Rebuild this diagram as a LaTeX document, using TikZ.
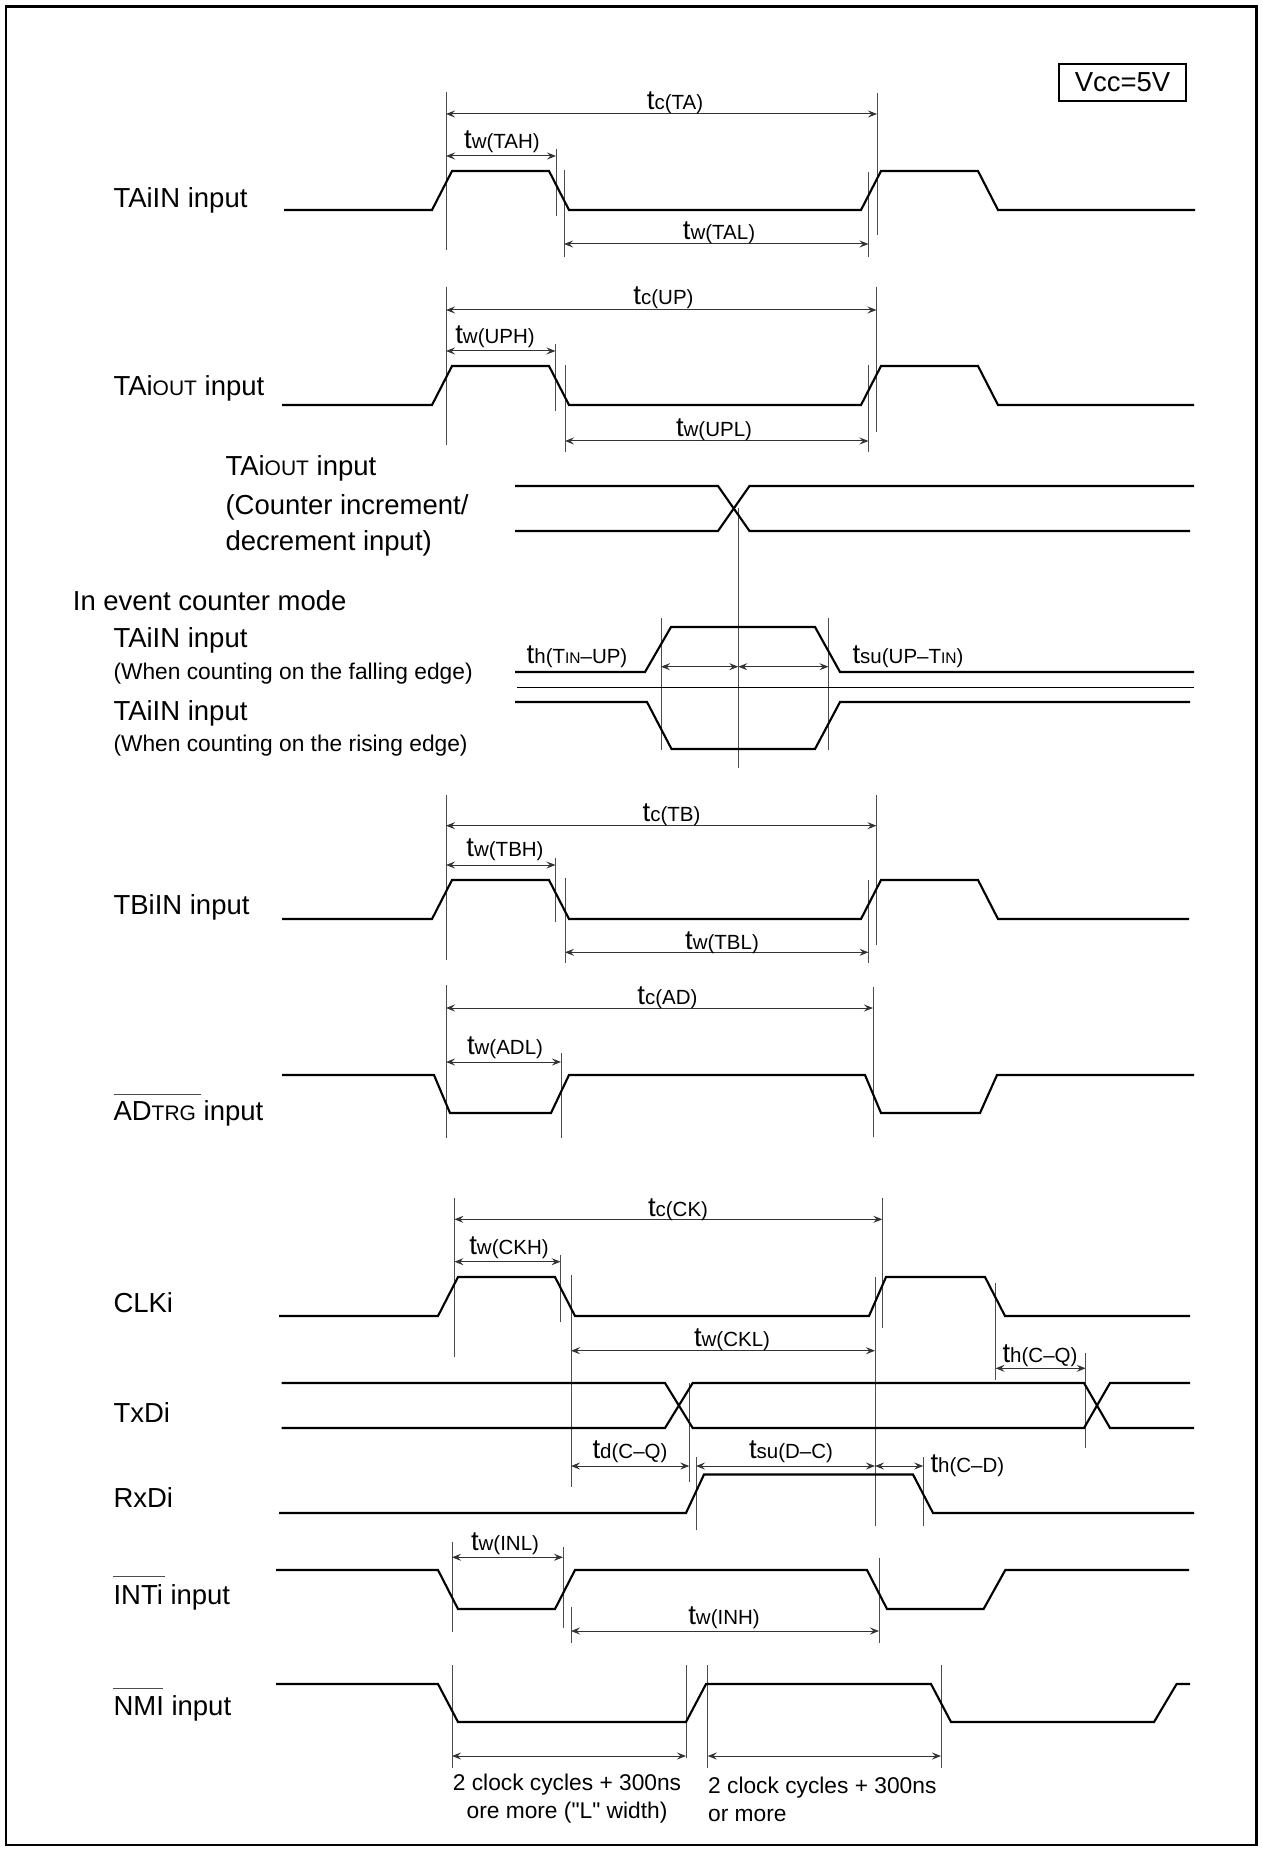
\documentclass[tikz,border=0pt]{standalone}
\usepackage{fontspec}
\setmainfont{Liberation Sans}
\newfontfamily\qfont{Liberation Sans}
\usetikzlibrary{arrows.meta}
\newcommand{\mytl}[1]{{\fontsize{11}{13}\selectfont t}{\fontsize{8.2}{10}\selectfont #1}}
\newcommand{\mysc}[1]{{\fontsize{8.4}{10}\selectfont #1}}
\newcommand{\myin}{{\fontsize{6.2}{7}\selectfont IN}}
\newcommand{\myq}{{\qfont"}}
\begin{document}
\begin{tikzpicture}[x=0.4pt,y=-0.4pt,
  sig/.style={line width=0.85pt, line join=miter},
  guide/.style={line width=0.35pt, draw=black!70},
  dimarr/.style={line width=0.4pt, draw=black!80, {Stealth[length=3.6pt,width=2.8pt,inset=1.3pt]}-{Stealth[length=3.6pt,width=2.8pt,inset=1.3pt]}},
  lbl/.style={anchor=west, inner sep=0pt, font=\fontsize{11}{13}\selectfont},
  slbl/.style={anchor=west, inner sep=0pt, font=\fontsize{9.1}{11}\selectfont},
  tlab/.style={inner sep=0pt},
  ovl/.style={line width=0.4pt, draw=black!70}
]
\useasboundingbox (0,0) rectangle (1261,1850);
\draw[line width=0.9pt] (6,6.5) rectangle (1256.5,1845);

% Vcc box
\node[draw, line width=0.7pt, minimum width=50.8pt, minimum height=14.8pt, inner sep=0pt, font=\fontsize{11}{13}\selectfont] (vcc) at (1122.5,82.5) {Vcc=5V};

% ---------------- TAiIN
\node[lbl] (l1) at (113,200) {TAiIN input};
\draw[guide] (446,92) -- (446,250) (556,149) -- (556,216) (564,170) -- (564,257) (868.5,172) -- (868.5,257) (877,93) -- (877,235);
\draw[dimarr] (446,114) -- (877,114);
\draw[dimarr] (446,156) -- (556,156);
\draw[dimarr] (564,244) -- (868.5,244);
\draw[sig] (284,210) -- (432,210) -- (452,171) -- (549,171) -- (569,210) -- (861,210) -- (881,171) -- (978,171) -- (998,210) -- (1195,210);
\node[tlab] (a1) at (675,103) {\mytl{c(TA)}};
\node[tlab] (a2) at (502,142) {\mytl{w(TAH)}};
\node[tlab] (a3) at (719,233) {\mytl{w(TAL)}};

% ---------------- TAiOUT
\node[lbl] (l2) at (113,388) {TAi\mysc{OUT} input};
\draw[guide] (446,287) -- (446,445) (555.5,344) -- (555.5,411) (565,365) -- (565,452) (868.5,365) -- (868.5,452) (876.5,287) -- (876.5,432);
\draw[dimarr] (446,310) -- (876.5,310);
\draw[dimarr] (446,351) -- (555.5,351);
\draw[dimarr] (565,441) -- (868.5,441);
\draw[sig] (282,405) -- (432,405) -- (452,366) -- (549,366) -- (569,405) -- (861,405) -- (881,366) -- (978,366) -- (998,405) -- (1194,405);
\node[tlab] (b1) at (663.5,298) {\mytl{c(UP)}};
\node[tlab] (b2) at (495,337) {\mytl{w(UPH)}};
\node[tlab] (b3) at (714,430) {\mytl{w(UPL)}};

% ---------------- Counter increment / decrement
\node[lbl] (l3) at (225,468) {TAi\mysc{OUT} input};
\node[lbl] (l4) at (225,507) {(Counter increment/};
\node[lbl] (l5) at (225,543) {decrement input)};
\draw[guide] (738.3,508) -- (738.3,768);
\draw[sig] (515,486) -- (718,486) -- (749.5,531) -- (1190,531);
\draw[sig] (515,531) -- (718,531) -- (749.5,486) -- (1194,486);

% ---------------- Event counter mode
\node[lbl] (l6) at (72.4,601) {In event counter mode};
\node[lbl] (l7) at (113,640) {TAiIN input};
\node[slbl] (l8) at (113,674) {(When counting on the falling edge)};
\node[lbl] (l9) at (113,713) {TAiIN input};
\node[slbl] (l10) at (113,746) {(When counting on the rising edge)};
\draw[guide] (661,618) -- (661,750) (828.5,618) -- (828.5,750);
\draw[dimarr] (661,666.7) -- (738.3,666.7);
\draw[dimarr] (738.3,666.7) -- (828.5,666.7);
\draw[line width=0.45pt] (517,687.3) -- (1194,687.3);
\draw[sig] (515,672) -- (645,672) -- (671,627) -- (815,627) -- (840,672) -- (1194,672);
\draw[sig] (515,702) -- (647,702) -- (671.5,749) -- (815,749) -- (840,702) -- (1190,702);
\node[tlab] (c1) at (577,657) {\mytl{h(T\myin{}–UP)}};
\node[tlab] (c2) at (908,657) {\mytl{su(UP–T\myin)}};

% ---------------- TBiIN
\node[lbl] (l11) at (113,907) {TBiIN input};
\draw[guide] (446,795) -- (446,960) (555.5,858) -- (555.5,922) (565,878) -- (565,963) (868.5,880) -- (868.5,963) (876.5,795) -- (876.5,945);
\draw[dimarr] (446,825.7) -- (876.5,825.7);
\draw[dimarr] (446,865) -- (555.5,865);
\draw[dimarr] (565,952.3) -- (868.5,952.3);
\draw[sig] (282,919) -- (432,919) -- (452,880) -- (549,880) -- (569,919) -- (861,919) -- (881,880) -- (978,880) -- (998,919) -- (1189,919);
\node[tlab] (d1) at (671.5,815) {\mytl{c(TB)}};
\node[tlab] (d2) at (505,850) {\mytl{w(TBH)}};
\node[tlab] (d3) at (722,943) {\mytl{w(TBL)}};

% ---------------- ADTRG
\node[lbl] (l12) at (113,1113) {AD\mysc{TRG} input};
\draw[ovl] (114,1094) -- (201,1094);
\draw[guide] (446,985) -- (446,1138) (561,1053) -- (561,1138) (873,987) -- (873,1137);
\draw[dimarr] (446,1008) -- (873,1008);
\draw[dimarr] (446,1062) -- (561,1062);
\draw[sig] (282,1075) -- (434,1075) -- (450,1113) -- (551,1113) -- (569,1075) -- (865,1075) -- (881,1113) -- (980,1113) -- (997,1075) -- (1194,1075);
\node[tlab] (e1) at (667.5,998) {\mytl{c(AD)}};
\node[tlab] (e2) at (505,1048) {\mytl{w(ADL)}};

% ---------------- CLKi / TxDi / RxDi
\node[lbl] (l13) at (113,1303) {CLKi};
\node[lbl] (l14) at (113,1413) {TxDi};
\node[lbl] (l15) at (113,1498) {RxDi};
\draw[guide] (454.4,1198) -- (454.4,1357) (560.6,1255) -- (560.6,1322) (571,1275) -- (571,1487)
  (875,1277) -- (875,1526) (882.3,1198) -- (882.3,1328) (995.6,1283) -- (995.6,1380) (1085.7,1353) -- (1085.7,1448)
  (689.3,1383) -- (689.3,1482) (696,1457) -- (696,1530) (923.3,1457) -- (923.3,1526);
\draw[dimarr] (454.4,1219.3) -- (882.3,1219.3);
\draw[dimarr] (454.4,1261.7) -- (560.6,1261.7);
\draw[dimarr] (571,1350.7) -- (875,1350.7);
\draw[dimarr] (995.6,1368.3) -- (1085.7,1368.3);
\draw[dimarr] (571,1466) -- (689.3,1466);
\draw[dimarr] (696,1466) -- (875,1466);
\draw[dimarr] (875,1466) -- (923.3,1466);
\draw[sig] (279,1316) -- (438,1316) -- (458,1277) -- (555,1277) -- (575,1316) -- (869,1316) -- (886,1277) -- (985,1277) -- (1005,1316) -- (1190,1316);
\draw[sig] (281.5,1383) -- (665,1383) -- (692.7,1428) -- (1084,1428) -- (1110,1383) -- (1190,1383);
\draw[sig] (281.5,1428) -- (665,1428) -- (692.7,1383) -- (1084,1383) -- (1110,1428) -- (1194,1428);
\draw[sig] (279,1513) -- (686,1513) -- (704,1474.5) -- (913,1474.5) -- (933,1513) -- (1194,1513);
\node[tlab] (f1) at (678,1209.3) {\mytl{c(CK)}};
\node[tlab] (f2) at (509,1247.7) {\mytl{w(CKH)}};
\node[tlab] (f3) at (732,1340) {\mytl{w(CKL)}};
\node[tlab] (f4) at (1040,1356) {\mytl{h(C–Q)}};
\node[tlab] (f5) at (630,1451.7) {\mytl{d(C–Q)}};
\node[tlab] (f6) at (791,1451.7) {\mytl{su(D–C)}};
\node[tlab, anchor=west] (f7) at (930,1466) {\mytl{h(C–D)}};

% ---------------- INTi
\node[lbl] (l16) at (113,1597) {INTi input};
\draw[ovl] (113,1576) -- (165,1576);
\draw[guide] (452,1542) -- (452,1632) (563,1547) -- (563,1628) (571,1607) -- (571,1643) (879,1558) -- (879,1643);
\draw[dimarr] (452,1557.3) -- (563,1557.3);
\draw[dimarr] (571,1631) -- (879,1631);
\draw[sig] (276,1570) -- (438,1570) -- (458,1609) -- (555,1609) -- (575,1570) -- (867,1570) -- (887,1609) -- (983.6,1609) -- (1005.3,1570) -- (1189,1570);
\node[tlab] (g1) at (505,1544) {\mytl{w(INL)}};
\node[tlab] (g2) at (724,1618) {\mytl{w(INH)}};

% ---------------- NMI
\node[lbl] (l17) at (113,1708) {NMI input};
\draw[ovl] (113,1688) -- (162.5,1688);
\draw[guide] (452,1665) -- (452,1768) (686,1665) -- (686,1758) (707.7,1665) -- (707.7,1768) (941,1665) -- (941,1768);
\draw[dimarr] (452,1756) -- (686,1756);
\draw[dimarr] (707.7,1756) -- (941,1756);
\draw[sig] (276,1684) -- (438,1684) -- (458,1722) -- (686,1722) -- (706,1684) -- (931,1684) -- (951,1722) -- (1154,1722) -- (1176.6,1684) -- (1190,1684);
\node[inner sep=0pt, align=center, font=\fontsize{9.1}{11.2}\selectfont] (h1) at (567,1799) {2 clock cycles + 300ns\\ore more (\myq L\myq{} width)};
\node[inner sep=0pt, anchor=west, align=left, font=\fontsize{9.1}{11.2}\selectfont] (h2) at (707.7,1799) {2 clock cycles + 300ns\\or more};
\end{tikzpicture}
\end{document}
